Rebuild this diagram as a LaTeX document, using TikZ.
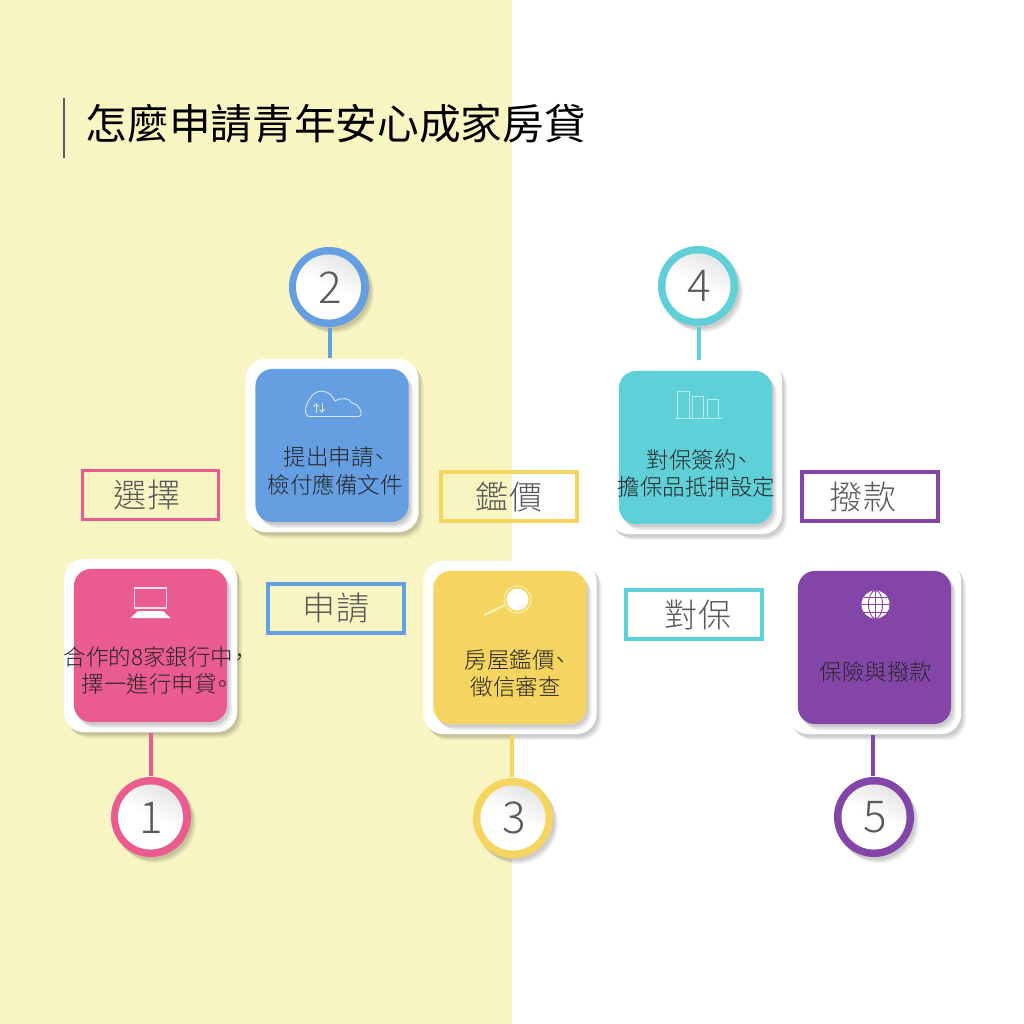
\documentclass[tikz,border=0pt]{standalone}
\usepackage{fontspec}
\setmainfont{Noto Sans CJK TC}
\newfontfamily\lightcjk{Noto Sans CJK TC Light}
\usetikzlibrary{shadows, arrows.meta}
\definecolor{creambg}{HTML}{F9F5C3}
\definecolor{stepone}{HTML}{EA5B8F}
\definecolor{steptwo}{HTML}{659FE2}
\definecolor{stepthree}{HTML}{F5D45F}
\definecolor{stepfour}{HTML}{5FCFD8}
\definecolor{stepfive}{HTML}{8445A8}
\definecolor{numgray}{HTML}{595959}
\tikzset{
    softshadow/.style = {
        drop shadow = {shadow xshift = 0.05cm, shadow yshift = -0.06cm, opacity = 0.06, fill = black},
        drop shadow = {shadow xshift = 0.035cm, shadow yshift = -0.045cm, opacity = 0.07, fill = black},
        drop shadow = {shadow xshift = 0.02cm, shadow yshift = -0.03cm, opacity = 0.08, fill = black}},
    cardback/.style = {fill = white, rounded corners = 0.2cm, minimum size = 1.73cm, inner sep = 0pt, softshadow},
    cardface/.style = {fill = #1, rounded corners = 0.17cm, minimum size = 1.53cm, inner sep = 0pt, softshadow},
    cardtext/.style = {anchor = west, align = left, font = \lightcjk\fontsize{6.4}{7.7}\selectfont, text = black!85, inner sep = 0pt},
    numring/.style = {circle, fill = #1, minimum size = 0.8cm, inner sep = 0pt, softshadow},
    numface/.style = {circle, minimum size = 0.65cm, inner sep = 0pt, top color = black!10, bottom color = white, middle color = white,
        shading angle = -25},
    numdigit/.style = {font = \lightcjk\fontsize{12.5}{12.5}\selectfont, text = numgray},
    tagbox/.style = {draw = #1, line width = 0.032cm, minimum width = 1.36cm, minimum height = 0.49cm, inner sep = 0pt},
    tagtext/.style = {font = \lightcjk\fontsize{9.4}{9.4}\selectfont, text = numgray, inner sep = 0pt},
    stem/.style = {draw = #1, line width = 0.035cm},
    icon/.style = {draw = #1, line width = 0.009cm}
}

\begin{document}
\begin{tikzpicture}[x = 0.01cm, y = -0.01cm]
    \useasboundingbox (0, 0) rectangle (1024, 1024);
    \fill [white] (0, 0) rectangle (1024, 1024);
    \fill [creambg] (0, 0) rectangle (512, 1024);

    \coordinate (bartop) at (64, 98);
    \coordinate (barbottom) at (64, 158);
    \draw [color = numgray, line width = 0.02cm] (bartop) -- (barbottom);
    \node [anchor = west, inner sep = 0pt, font = \fontsize{11.85}{11.85}\selectfont] (title) at (85, 124) {怎麼申請青年安心成家房貸};

    \foreach \n/\cx/\cy/\nx/\ny/\sx/\col in {one/150.5/645.5/151/817/151/stepone, two/332/445.5/329/287/330/steptwo, three/510/647.5/513/818/512/stepthree, four/695.5/447.5/698/286/699/stepfour, five/874.5/647.5/874/817/873/stepfive}
    {
        \node [cardback] (back\n) at (\cx, \cy) {};
        \node [cardface = \col] (face\n) at (\cx, \cy) {};
        \node [numring = \col] (ring\n) at (\nx, \ny) {};
        \coordinate (foot\n) at (\sx, \ny);
        \ifnum\ny<500
            \draw [stem = \col] (foot\n |- ring\n.south) -- (foot\n |- back\n.north);
        \else
            \draw [stem = \col] (foot\n |- ring\n.north) -- (foot\n |- back\n.south);
        \fi
    }

    \node [numface] (numone) at (150.5, 817) {};
    \node [numface] (numtwo) at (328.5, 287) {};
    \node [numface] (numthree) at (513, 818) {};
    \node [numface] (numfour) at (698, 286) {};
    \node [numface] (numfive) at (874, 817) {};

    \node [numdigit] (digone) at (151.5, 818) {1};
    \node [numdigit] (digtwo) at (330, 288) {2};
    \node [numdigit] (digthree) at (514.5, 818) {3};
    \node [numdigit] (digfour) at (699, 286) {4};
    \node [numdigit] (digfive) at (875, 817) {5};

    % laptop
    \draw [icon = white!80!stepone, line width = 0.012cm] (134.5, 588) rectangle (166.5, 608);
    \fill [white] (138, 611) -- (163, 611) -- (170.5, 618) -- (130.5, 618) -- cycle;

    % cloud
    \draw [icon = white!75!steptwo] (310, 416.5) -- (358, 416.5) .. controls (364, 416.5) and (361, 405) .. (352, 403)
        .. controls (349, 398) and (342, 397) .. (335, 401) .. controls (330, 390) and (318, 388) .. (312, 396)
        .. controls (306, 402) and (302, 416.5) .. (310, 416.5);
    \draw [icon = white!75!steptwo, -{Straight Barb[length = 0.03cm, width = 0.05cm]}] (316, 413) -- (316, 403);
    \draw [icon = white!75!steptwo, -{Straight Barb[length = 0.03cm, width = 0.05cm]}] (322, 403) -- (322, 413);

    % magnifier
    \draw [color = creambg, line width = 0.018cm] (484, 615) -- (505, 605);
    \draw [icon = creambg] (517.5, 599.5) circle [radius = 13.5];
    \fill [white] (517.5, 599.5) circle [radius = 11];

    % bars
    \draw [icon = white!55!stepfour] (675, 418) -- (722, 418);
    \draw [icon = white!55!stepfour] (677, 418) -- (677, 391) -- (689, 391) -- (689, 418);
    \draw [icon = white!55!stepfour] (692, 418) -- (692, 396) -- (703, 396) -- (703, 418);
    \draw [icon = white!55!stepfour] (707, 418) -- (707, 399) -- (718, 399) -- (718, 418);

    % globe
    \fill [white] (875.5, 604.5) circle [radius = 14];
    \draw [icon = stepfive] (875.5, 590.5) -- (875.5, 618.5);
    \draw [icon = stepfive] (875.5, 604.5) ellipse [x radius = 7, y radius = 14];
    \draw [icon = stepfive] (861.5, 604.5) -- (889.5, 604.5);
    \draw [icon = stepfive] (864, 597) -- (887, 597);
    \draw [icon = stepfive] (864, 612) -- (887, 612);

    \node [cardtext] (textone) at (63, 670) {合作的8家銀行中\kern-0.05cm，\\\hspace*{0.18cm}擇一進行申貸\kern-0.05cm。};
    \node [cardtext] (texttwo) at (267, 471) {\hspace*{0.16cm}提出申請\kern-0.05cm、\\檢付應備文件};
    \node [cardtext] (textthree) at (464, 673) {房屋鑑價\kern-0.05cm、\\\hspace*{0.06cm}徵信審查};
    \node [cardtext] (textfour) at (617, 473) {\hspace*{0.29cm}對保簽約\kern-0.05cm、\\擔保品抵押設定};
    \node [cardtext] (textfive) at (819, 672) {保險與撥款};

    \foreach \n/\bx/\by/\tx/\col/\lab in {select/150.5/495/147/stepone/選擇, apply/336/608.5/336/steptwo/申請, appraise/509/496.5/509/stepthree/鑑價, sign/694/614.5/698/stepfour/對保, loan/870/496.5/863/stepfive/撥款}
    {
        \node [tagbox = \col] (box\n) at (\bx, \by) {};
        \node [tagtext] (tag\n) at (\tx, \by) {\lab};
    }
\end{tikzpicture}
\end{document}
